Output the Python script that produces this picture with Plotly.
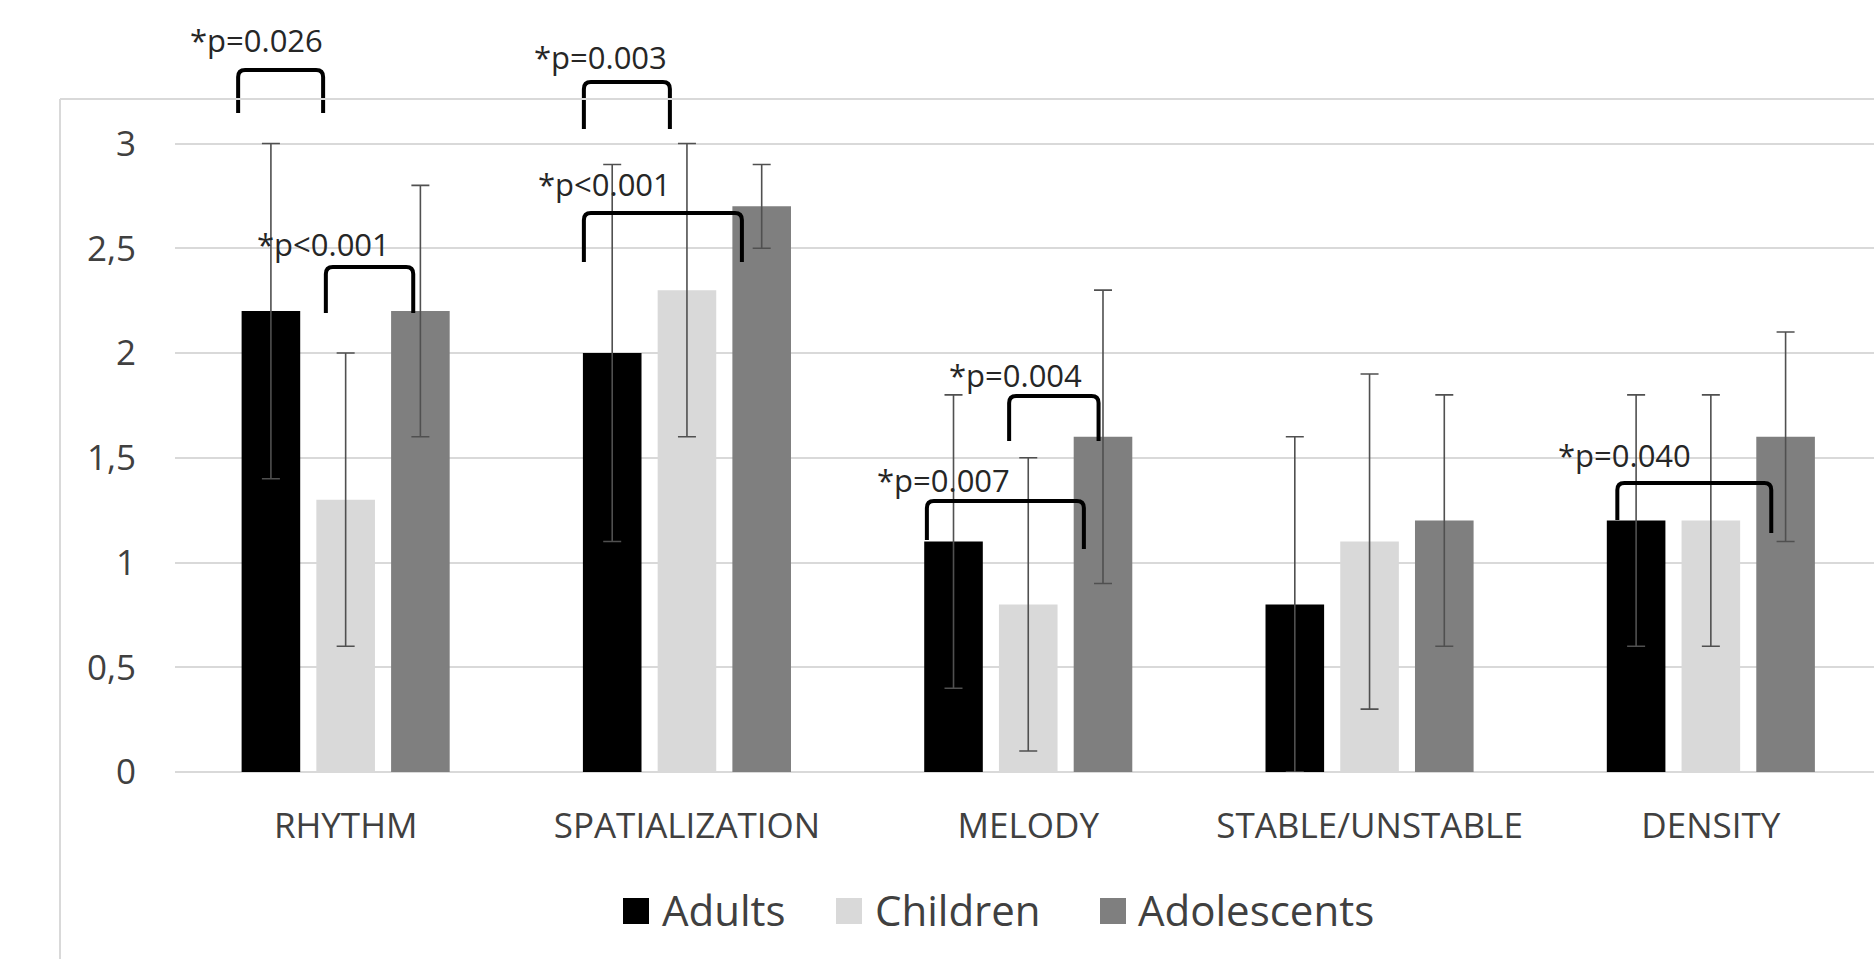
import plotly.graph_objects as go

# ---------------- data ----------------
categories = ["RHYTHM", "SPATIALIZATION", "MELODY", "STABLE/UNSTABLE", "DENSITY"]
series_names = ["Adults", "Children", "Adolescents"]
adults = [2.2, 2.0, 1.1, 0.8, 1.2]
adults_err = [0.8, 0.9, 0.7, 0.8, 0.6]
children = [1.3, 2.3, 0.8, 1.1, 1.2]
children_err = [0.7, 0.7, 0.7, 0.8, 0.6]
adolescents = [2.2, 2.7, 1.6, 1.2, 1.6]
adolescents_err = [0.6, 0.2, 0.7, 0.6, 0.5]
y_tickvals = [0, 0.5, 1, 1.5, 2, 2.5, 3]
y_ticktext = ["0", "0,5", "1", "1,5", "2", "2,5", "3"]

# significance labels
sig_labels = ["*p=0.026", "*p=0.003", "*p<0.001", "*p<0.001", "*p=0.004", "*p=0.007", "*p=0.040"]

# bracket geometry (category-index x, value y): x_left, x_right, y_top, y_end_left, y_end_right, text_x, text_y
bracket_geom = [
    (-0.315, -0.066, 3.351, 3.146, 3.146, -0.262, 3.492),
    (0.698, 0.950, 3.294, 3.069, 3.069, 0.747, 3.411),
    (-0.058, 0.198, 2.411, 2.191, 2.191, -0.064, 2.518),
    (0.698, 1.161, 2.668, 2.434, 2.434, 0.759, 2.807),
    (1.944, 2.206, 1.795, 1.580, 1.580, 1.962, 1.893),
    (1.703, 2.163, 1.294, 1.107, 1.064, 1.752, 1.396),
    (3.726, 4.177, 1.379, 1.203, 1.141, 3.748, 1.511),
]

# ---------------- style ----------------
W, H = 1874, 959
ML, MR, MT, MB = 175, 0, 0, 187
PW, PH = W - ML - MR, H - MT - MB
CAT_PX = 341.3
UNIT_PX = 209.5
colors = ["#000000", "#D9D9D9", "#7F7F7F"]
FONT = "Open Sans"
TXT = "#404040"

fig = go.Figure()
for name, vals, errs, col in zip(series_names, [adults, children, adolescents],
                                 [adults_err, children_err, adolescents_err], colors):
    fig.add_trace(go.Bar(
        x=list(range(len(categories))), y=vals, name=name,
        marker=dict(color=col, line=dict(width=0)),
        error_y=dict(type="data", array=errs, visible=True, color="#505050",
                     thickness=1.6, width=9),
        showlegend=False,
    ))

x_max = -0.5 + PW / CAT_PX
y_max = PH / UNIT_PX

shapes = []
annotations = []
rx, ry = 7 / CAT_PX, 7 / UNIT_PX
for label, (x1, x2, yt, yb1, yb2, tx, ty) in zip(sig_labels, bracket_geom):
    path = (f"M{x1},{yb1} L{x1},{yt - ry} Q{x1},{yt} {x1 + rx},{yt} "
            f"L{x2 - rx},{yt} Q{x2},{yt} {x2},{yt - ry} L{x2},{yb2}")
    shapes.append(dict(type="path", path=path, xref="x", yref="y",
                       line=dict(color="#000000", width=4)))
    annotations.append(dict(x=tx, y=ty, xref="x", yref="y", text=label, showarrow=False,
                            xanchor="center", yanchor="middle",
                            font=dict(family=FONT, size=31, color="#262626")))

# chart-area border (left and top, rest cropped)
def px_x(p):
    return (p - ML) / PW

def px_y(p):
    return (H - MB - p) / PH

shapes.append(dict(type="line", xref="paper", yref="paper",
                   x0=px_x(60), x1=px_x(W + 5), y0=px_y(99), y1=px_y(99),
                   line=dict(color="#D9D9D9", width=2)))
shapes.append(dict(type="line", xref="paper", yref="paper",
                   x0=px_x(60), x1=px_x(60), y0=px_y(99), y1=px_y(H + 5),
                   line=dict(color="#D9D9D9", width=2)))

# legend (drawn manually to match the large square keys)
legend_sq_x = [623, 836, 1100]
legend_txt_x = [660, 873, 1136]
for name, col, sx, tx in zip(series_names, colors, legend_sq_x, legend_txt_x):
    shapes.append(dict(type="rect", xref="paper", yref="paper",
                       x0=px_x(sx), x1=px_x(sx + 26), y0=px_y(898), y1=px_y(924),
                       fillcolor=col, line=dict(width=0)))
    annotations.append(dict(x=px_x(tx), y=px_y(909), xref="paper", yref="paper",
                            text=name, showarrow=False, xanchor="left", yanchor="middle",
                            font=dict(family=FONT, size=42, color=TXT)))

fig.update_layout(
    width=W, height=H,
    margin=dict(l=ML, r=MR, t=MT, b=MB, pad=0),
    plot_bgcolor="white", paper_bgcolor="white",
    barmode="group", bargap=0.343, bargroupgap=0.216,
    font=dict(family=FONT, color=TXT),
    shapes=shapes, annotations=annotations,
    showlegend=False,
)
fig.update_xaxes(
    range=[-0.5, x_max], tickmode="array", tickvals=list(range(len(categories))),
    ticktext=categories, showgrid=False, zeroline=False, showline=False, ticks="",
    tickfont=dict(family=FONT, size=35, color=TXT), ticklabelstandoff=30,
)
fig.update_yaxes(
    range=[0, y_max], tickmode="array", tickvals=y_tickvals, ticktext=y_ticktext,
    showgrid=True, gridcolor="#D9D9D9", gridwidth=2,
    zeroline=True, zerolinecolor="#D9D9D9", zerolinewidth=2,
    showline=False, ticks="", tickfont=dict(family=FONT, size=35, color=TXT),
    ticklabelstandoff=38,
)

fig.write_html("out.html", config={"displayModeBar": False},
               post_script="document.body.style.margin='0';document.body.style.overflow='hidden';")
